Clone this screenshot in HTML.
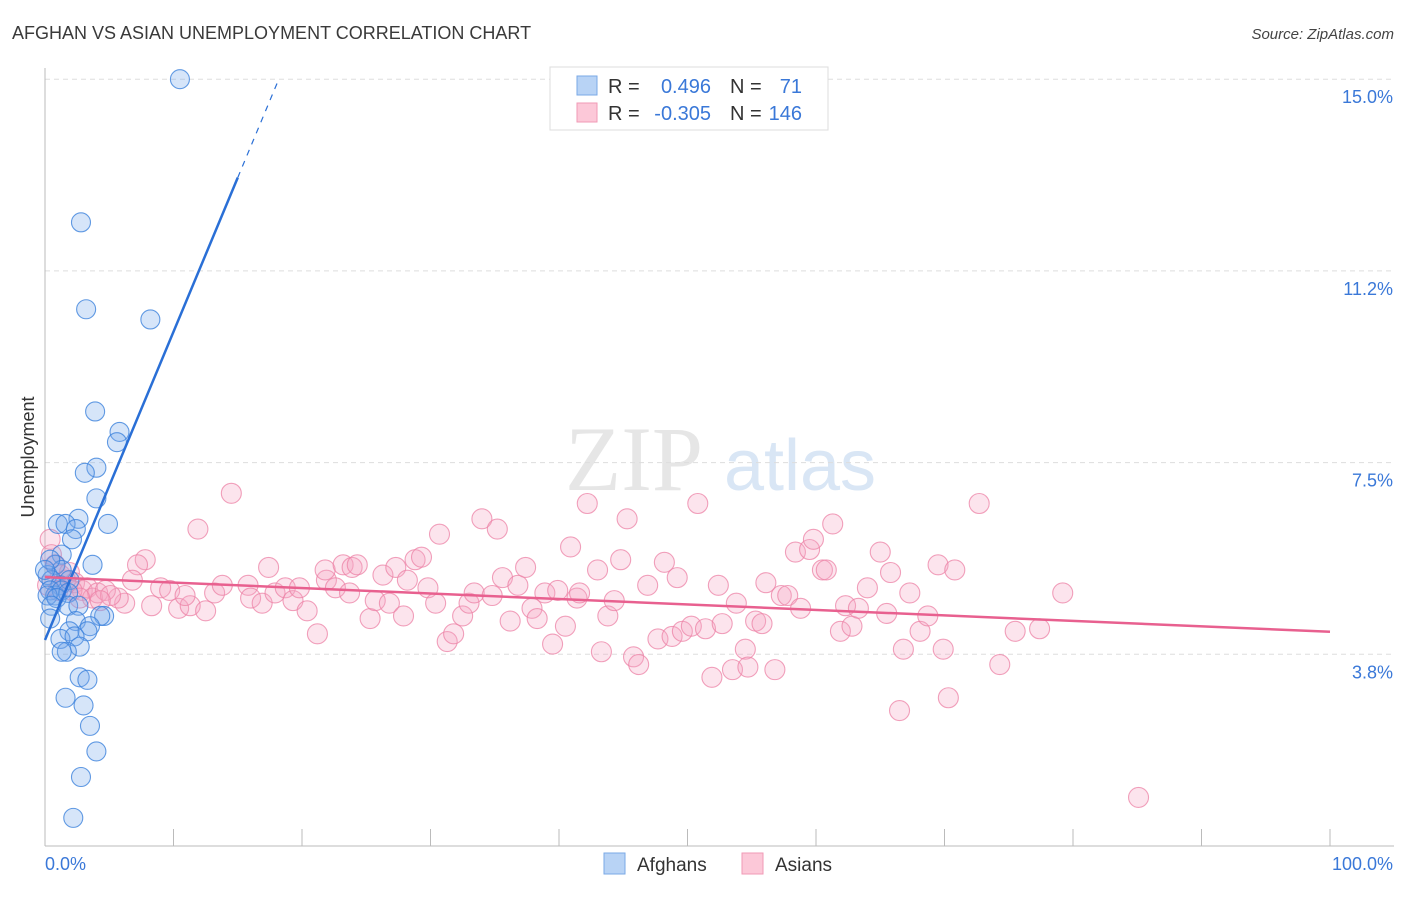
<!DOCTYPE html>
<html><head><meta charset="utf-8"><style>
body{margin:0;background:#fff;font-family:"Liberation Sans",sans-serif}
</style></head><body>
<svg id="chart" width="1406" height="892" xmlns="http://www.w3.org/2000/svg" style="font-family:'Liberation Sans',sans-serif">
<text x="12" y="39" font-size="18" fill="#3a3a3a">AFGHAN VS ASIAN UNEMPLOYMENT CORRELATION CHART</text>
<text x="1394" y="39" font-size="15" fill="#444" font-style="italic" text-anchor="end">Source: ZipAtlas.com</text>
<g>
<text x="634" y="490" font-size="92" fill="#e6e6e6" font-family="Liberation Serif,serif" text-anchor="middle">ZIP</text>
<text x="800" y="490" font-size="72" fill="#d9e6f5" text-anchor="middle">atlas</text>
</g>
<g id="grid"></g>
<g id="axes"></g>
<g id="pts"></g>
<g id="trends"></g>
<text transform="translate(34,457) rotate(-90)" font-size="18" fill="#333" text-anchor="middle">Unemployment</text>
<g>
<rect x="550" y="67" width="278" height="63" fill="#fff" stroke="#ddd"/>
<rect x="577" y="76" width="20" height="19" fill="#b8d3f5" stroke="#7aa8e6"/>
<rect x="577" y="103" width="20" height="19" fill="#fcc8d8" stroke="#f09ab6"/>
<text x="608" y="93" font-size="20" fill="#333">R =</text>
<text x="711" y="93" font-size="20" fill="#3a78d8" text-anchor="end">0.496</text>
<text x="730" y="93" font-size="20" fill="#333">N =</text>
<text x="802" y="93" font-size="20" fill="#3a78d8" text-anchor="end">71</text>
<text x="608" y="120" font-size="20" fill="#333">R =</text>
<text x="711" y="120" font-size="20" fill="#3a78d8" text-anchor="end">-0.305</text>
<text x="730" y="120" font-size="20" fill="#333">N =</text>
<text x="802" y="120" font-size="20" fill="#3a78d8" text-anchor="end">146</text>
</g>
<g>
<rect x="604" y="853" width="21" height="21" fill="#b8d3f5" stroke="#7aa8e6"/>
<text x="637" y="871" font-size="19" fill="#333">Afghans</text>
<rect x="742" y="853" width="21" height="21" fill="#fcc8d8" stroke="#f09ab6"/>
<text x="775" y="871" font-size="19" fill="#333">Asians</text>
</g>
</svg>
<script>
const yTicks=[3.75,7.5,11.25,15.0];
const yTickLabels=["3.8%","7.5%","11.2%","15.0%"];
const xTicks=[0,10,20,30,40,50,60,70,80,90,100];
const afghanX=[10.5,2.8,3.2,8.2,3.9,5.8,5.6,4.0,3.1,4.0,4.9,2.6,1.0,1.6,2.4,2.1,1.3,3.7,0.8,1.3,0.2,0.5,1.2,1.9,0.4,0.8,1.3,0.2,1.8,0.9,0.5,1.8,2.6,4.6,4.3,2.4,3.5,3.3,1.9,1.2,2.3,2.7,1.7,1.3,2.7,3.3,1.6,3.0,3.5,4.0,2.8,2.2,0.4,0.0,0.4];
const afghanY=[15.0,12.2,10.5,10.3,8.5,8.1,7.9,7.4,7.3,6.8,6.3,6.4,6.3,6.3,6.2,6.0,5.7,5.5,5.5,5.4,5.3,5.2,5.1,5.2,5.0,4.9,5.0,4.9,4.95,4.85,4.7,4.7,4.7,4.5,4.5,4.4,4.3,4.2,4.2,4.05,4.1,3.9,3.8,3.8,3.3,3.25,2.9,2.75,2.35,1.85,1.35,0.55,5.6,5.4,4.45];
const asianX=[14.5,11.9,7.8,7.2,6.8,9.0,9.7,8.3,6.2,5.7,10.4,11.3,12.5,10.9,13.2,13.8,15.8,16.0,16.9,17.4,17.9,18.7,19.3,19.8,20.4,21.2,21.9,22.6,21.8,23.2,23.9,24.3,23.7,25.3,25.7,26.3,26.8,27.3,27.9,28.2,28.8,29.3,29.8,30.4,30.7,31.3,31.8,32.5,33.0,33.4,34.0,34.8,35.2,35.6,36.2,36.8,37.4,37.9,38.3,38.9,39.5,39.9,40.5,40.9,41.4,41.6,42.2,43.0,43.3,43.8,44.3,44.8,45.3,45.8,46.2,46.9,47.7,48.2,48.8,49.2,49.6,50.3,50.8,51.4,51.9,52.4,52.7,53.5,53.8,54.5,54.7,55.3,55.8,56.1,56.8,57.3,57.8,58.4,58.8,59.5,59.8,60.5,60.8,61.3,61.9,62.3,62.8,63.3,64.0,65.0,65.5,65.8,66.5,66.8,67.3,68.1,68.7,69.5,69.9,70.3,70.8,72.7,74.3,75.5,77.4,79.2,85.1,0.4,0.5,0.8,1.2,1.6,1.9,2.3,2.9,3.3,3.7,4.1,4.7,5.1,0.2,1.0,2.1,2.7,4.3];
const asianY=[6.9,6.2,5.6,5.5,5.2,5.05,5.0,4.7,4.75,4.85,4.65,4.7,4.6,4.9,4.95,5.1,5.1,4.85,4.75,5.45,4.95,5.05,4.8,5.05,4.6,4.15,5.2,5.05,5.4,5.5,5.45,5.5,4.95,4.45,4.8,5.3,4.75,5.45,4.5,5.2,5.6,5.65,5.05,4.75,6.1,4.0,4.15,4.5,4.75,4.95,6.4,4.9,6.2,5.25,4.4,5.1,5.45,4.65,4.45,4.95,3.95,5.0,4.3,5.85,4.85,4.95,6.7,5.4,3.8,4.5,4.8,5.6,6.4,3.7,3.55,5.1,4.05,5.55,4.1,5.25,4.2,4.3,6.7,4.25,3.3,5.1,4.35,3.45,4.75,3.85,3.5,4.4,4.35,5.15,3.45,4.9,4.9,5.75,4.65,5.8,6.0,5.4,5.4,6.3,4.2,4.7,4.3,4.65,5.05,5.75,4.55,5.35,2.65,3.85,4.95,4.2,4.5,5.5,3.85,2.9,5.4,6.7,3.55,4.2,4.25,4.95,0.95,6.0,5.7,5.5,5.3,5.2,5.35,5.15,5.0,5.05,4.85,4.95,5.0,4.9,5.1,5.0,5.0,4.85,4.8];
const afghanTrend=[4.03,0.603]; // intercept, slope per %
const asianTrend=[5.26,4.19]; // y at 0%, y at 100%
const NS="http://www.w3.org/2000/svg";
const X=v=>45+v*12.85, Y=v=>846-v*51.12;
function mk(p,t,a){const e=document.createElementNS(NS,t);for(const k in a)e.setAttribute(k,a[k]);p.appendChild(e);return e;}
const grid=document.getElementById('grid'),axes=document.getElementById('axes'),pts=document.getElementById('pts'),tr=document.getElementById('trends');
yTicks.forEach((t,i)=>{
 const l=mk(grid,'line',{x1:45,x2:1394,y1:Y(t),y2:Y(t),stroke:'#ddd','stroke-dasharray':'5,4'});
 
 
 const tx=mk(axes,'text',{x:1393,y:Y(t)+24,'font-size':18,fill:'#3a78d8','text-anchor':'end'});
 tx.textContent=yTickLabels[i];
 
 
});
mk(axes,'line',{x1:45,x2:45,y1:68,y2:846,stroke:'#bbb'});
mk(axes,'line',{x1:45,x2:1394,y1:846,y2:846,stroke:'#bbb'});
xTicks.forEach(t=>{const l=mk(axes,'line',{x1:X(t),x2:X(t),y1:829,y2:846,stroke:'#bbb'});
 
 });
const x0=mk(axes,'text',{x:45,y:870,'font-size':18,fill:'#3a78d8'});x0.textContent='0.0%';


const x1=mk(axes,'text',{x:1393,y:870,'font-size':18,fill:'#3a78d8','text-anchor':'end'});x1.textContent='100.0%';


asianX.forEach((v,i)=>{const c=mk(pts,'circle',{cx:X(v),cy:Y(asianY[i]),r:10,fill:'rgba(246,165,195,0.3)',stroke:'rgba(236,130,165,0.75)','stroke-width':1.1});
 
 });
afghanX.forEach((v,i)=>{const c=mk(pts,'circle',{cx:X(v),cy:Y(afghanY[i]),r:9.5,fill:'rgba(120,170,235,0.3)',stroke:'rgba(60,130,220,0.8)','stroke-width':1.1});
 
 });
const a=afghanTrend[0],b=afghanTrend[1];
const ta=mk(tr,'line',{x1:X(0),y1:Y(a),x2:X(15),y2:Y(a+b*15),stroke:'#2a6fd6','stroke-width':2.5});


const xe=(15-a)/b;
const td=mk(tr,'line',{x1:X(15),y1:Y(a+b*15),x2:X(xe),y2:Y(15),stroke:'#2a6fd6','stroke-width':1.2,'stroke-dasharray':'6,6'});


const tp=mk(tr,'line',{x1:X(0),y1:Y(asianTrend[0]),x2:X(100),y2:Y(asianTrend[1]),stroke:'#e8608f','stroke-width':2.5});


</script>
</body></html>
